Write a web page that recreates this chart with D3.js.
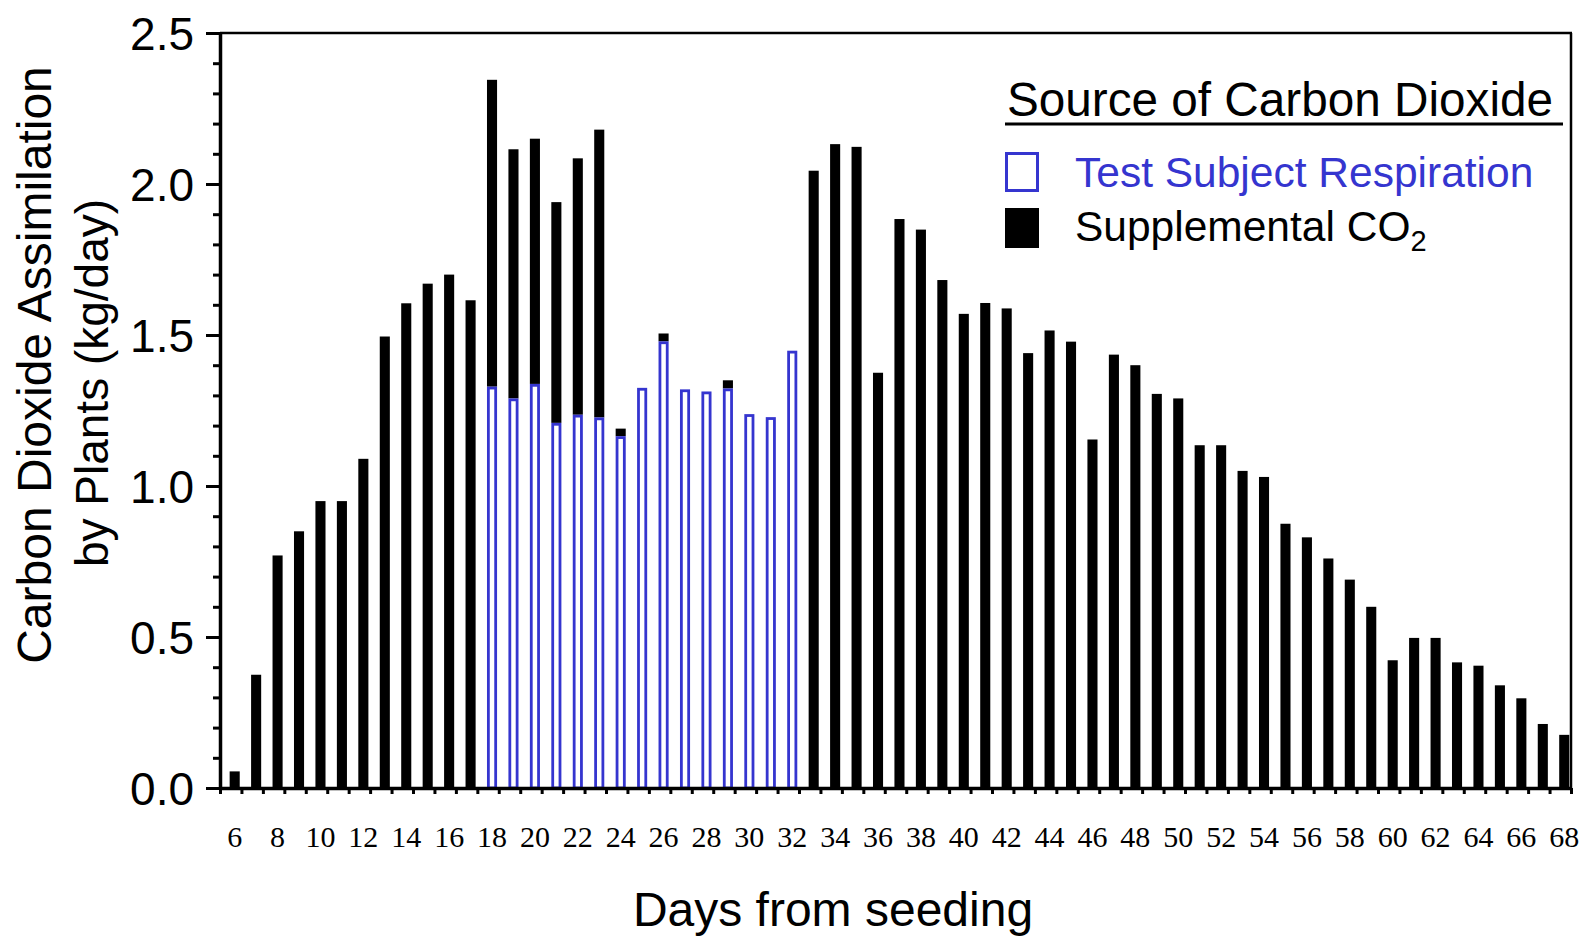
<!DOCTYPE html>
<html>
<head>
<meta charset="utf-8">
<script src="https://cdn.jsdelivr.net/npm/d3@7"></script>
<style>
body { margin: 0; background: #fff; }
svg { display: block; }
.sans { font-family: "Liberation Sans", Arial, sans-serif; }
.serif { font-family: "Liberation Serif", "Times New Roman", serif; }
</style>
</head>
<body>
<div id="chart"></div>
<script>

//Days from seeding (one bar per day)
var days = [6, 7, 8, 9, 10, 11, 12, 13, 14, 15, 16, 17, 18, 19, 20, 21, 22, 23, 24, 25,
    26, 27, 28, 29, 30, 31, 32, 33, 34, 35, 36, 37, 38, 39, 40, 41, 42, 43, 44, 45,
    46, 47, 48, 49, 50, 51, 52, 53, 54, 55, 56, 57, 58, 59, 60, 61, 62, 63, 64, 65,
    66, 67, 68];

//Total CO2 assimilation (kg/day), top of each bar
var totalAssim = [0.055, 0.375, 0.77, 0.85, 0.95, 0.95, 1.09, 1.495, 1.605, 1.67,
    1.70, 1.615, 2.345, 2.115, 2.15, 1.94, 2.085, 2.18, 1.19, 1.325,
    1.505, 1.32, 1.313, 1.35, 1.238, 1.228, 1.448, 2.044, 2.132, 2.123,
    1.375, 1.884, 1.849, 1.682, 1.57, 1.606, 1.588, 1.44, 1.515, 1.478,
    1.154, 1.435, 1.40, 1.305, 1.29, 1.135, 1.135, 1.05, 1.03, 0.875,
    0.83, 0.76, 0.69, 0.60, 0.423, 0.497, 0.497, 0.416, 0.405, 0.34,
    0.297, 0.212, 0.176];

//Days with crew (test subject) respiration and its share
var respDays = [18, 19, 20, 21, 22, 23, 24, 25, 26, 27, 28, 29, 30, 31, 32];
var respValues = [1.329, 1.29, 1.338, 1.209, 1.236, 1.227, 1.165, 1.325, 1.479, 1.32,
    1.313, 1.323, 1.238, 1.228, 1.448];

var yTicks = [0, 0.5, 1.0, 1.5, 2.0, 2.5];
var xLabels = [6, 8, 10, 12, 14, 16, 18, 20, 22, 24, 26, 28, 30, 32, 34, 36, 38, 40, 42,
    44, 46, 48, 50, 52, 54, 56, 58, 60, 62, 64, 66, 68];

var blue = "#3535cf";

//System dimensions
var width = 1583, height = 940;
var plotLeft = 220, plotRight = 1571, plotTop = 33, plotBottom = 788;

var svg = d3.select("#chart")
    .append("svg")
    .attr("width", width)
    .attr("height", height);

var x = d3.scaleLinear()
    .domain([days[0] - 0.5, days[days.length - 1] + 0.5])
    .range([plotLeft, plotRight]);
var step = x(1) - x(0);

var y = d3.scaleLinear()
    .domain([0, 2.5])
    .range([plotBottom, plotTop]);

//Build rows
var rows = days.map(function(d, i) {
    var k = respDays.indexOf(d);
    return {
        day: d,
        total: totalAssim[i],
        resp: k >= 0 ? respValues[k] : 0
    };
});

var barX = function(d) { return x(d.day - 0.5) + step * 0.45; };
var barW = step * 0.47;

//Supplemental (black) part
svg.append("g")
    .selectAll("rect")
    .data(rows.filter(function(d) { return d.total - d.resp > 0.001; }))
    .enter()
    .append("rect")
    .attr("x", barX)
    .attr("width", barW)
    .attr("y", function(d) { return y(d.total); })
    .attr("height", function(d) { return y(d.resp) - y(d.total); })
    .attr("fill", "#000");

//Respiration (hollow blue) part
svg.append("g")
    .selectAll("rect")
    .data(rows.filter(function(d) { return d.resp > 0; }))
    .enter()
    .append("rect")
    .attr("x", function(d) { return barX(d) + 1.4; })
    .attr("width", barW - 2.8)
    .attr("y", function(d) { return y(d.resp) + 1.4; })
    .attr("height", function(d) { return y(0) - y(d.resp) - 1.4; })
    .attr("fill", "#fff")
    .attr("stroke", blue)
    .attr("stroke-width", 2.8);

//Frame top and right
svg.append("line")
    .attr("x1", plotLeft).attr("x2", plotRight + 1)
    .attr("y1", plotTop).attr("y2", plotTop)
    .attr("stroke", "#000").attr("stroke-width", 2.5);
svg.append("line")
    .attr("x1", plotRight).attr("x2", plotRight)
    .attr("y1", plotTop).attr("y2", plotBottom)
    .attr("stroke", "#000").attr("stroke-width", 2.5);

//Y axis
var yAxis = svg.append("g")
    .attr("transform", "translate(" + plotLeft + ",0)")
    .call(d3.axisLeft(y).tickValues(d3.range(0, 26).map(function(v) { return v / 10; }))
        .tickSize(7).tickSizeOuter(0).tickFormat(""));
yAxis.select(".domain").attr("stroke-width", 3.5);
yAxis.selectAll(".tick line").attr("stroke-width", 3);
yAxis.selectAll(".tick")
    .filter(function(d) { return Math.round(d * 10) % 5 == 0; })
    .select("line").attr("x2", -14);

svg.append("g")
    .selectAll("text")
    .data(yTicks)
    .enter()
    .append("text")
    .attr("class", "sans")
    .attr("x", 194)
    .attr("y", function(d) { return y(d); })
    .attr("dy", "0.36em")
    .attr("text-anchor", "end")
    .attr("font-size", 46)
    .text(function(d) { return d.toFixed(1); });

//X axis with ticks at day boundaries
var xAxis = svg.append("g")
    .attr("transform", "translate(0," + plotBottom + ")")
    .call(d3.axisBottom(x).tickValues(days.map(function(d) { return d - 0.5; }).concat([days[days.length - 1] + 0.5]))
        .tickSize(6).tickSizeOuter(0).tickFormat(""));
xAxis.select(".domain").attr("stroke-width", 3.5);
xAxis.selectAll(".tick line").attr("stroke-width", 3);

svg.append("g")
    .selectAll("text")
    .data(xLabels)
    .enter()
    .append("text")
    .attr("class", "serif")
    .attr("x", function(d) { return x(d - 0.5) + step * 0.45 + barW / 2; })
    .attr("y", 847)
    .attr("text-anchor", "middle")
    .attr("font-size", 30)
    .text(function(d) { return d; });

//Axis titles
svg.append("text")
    .attr("class", "sans")
    .attr("x", 833)
    .attr("y", 926)
    .attr("text-anchor", "middle")
    .attr("font-size", 48)
    .text("Days from seeding");

svg.append("text")
    .attr("class", "sans")
    .attr("transform", "translate(51,365) rotate(-90)")
    .attr("text-anchor", "middle")
    .attr("font-size", 48)
    .text("Carbon Dioxide Assimilation");
svg.append("text")
    .attr("class", "sans")
    .attr("transform", "translate(108,383) rotate(-90)")
    .attr("text-anchor", "middle")
    .attr("font-size", 46)
    .text("by Plants (kg/day)");

//Legend
var legend = svg.append("g");
legend.append("text")
    .attr("class", "sans")
    .attr("x", 1007)
    .attr("y", 116)
    .attr("font-size", 47.7)
    .text("Source of Carbon Dioxide");
legend.append("line")
    .attr("x1", 1005).attr("x2", 1563)
    .attr("y1", 124).attr("y2", 124)
    .attr("stroke", "#000").attr("stroke-width", 3);

legend.append("rect")
    .attr("x", 1006.5).attr("y", 153.5)
    .attr("width", 31).attr("height", 37)
    .attr("fill", "#fff")
    .attr("stroke", blue).attr("stroke-width", 3);
legend.append("text")
    .attr("class", "sans")
    .attr("x", 1075)
    .attr("y", 187)
    .attr("font-size", 42.5)
    .attr("fill", blue)
    .text("Test Subject Respiration");

legend.append("rect")
    .attr("x", 1005).attr("y", 208)
    .attr("width", 34).attr("height", 40)
    .attr("fill", "#000");
var supp = legend.append("text")
    .attr("class", "sans")
    .attr("x", 1075)
    .attr("y", 241)
    .attr("font-size", 42.5)
    .text("Supplemental CO");
supp.append("tspan")
    .attr("font-size", 29)
    .attr("dy", 10)
    .text("2");

</script>
</body>
</html>
